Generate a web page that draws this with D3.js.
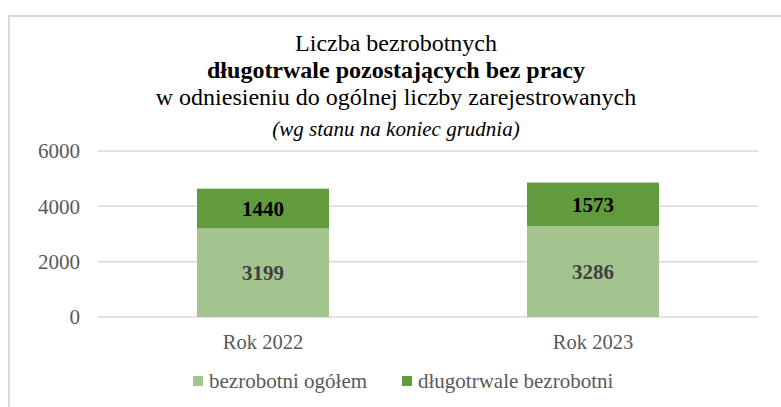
<!DOCTYPE html>
<html>
<head>
<meta charset="utf-8">
<script src="https://cdn.jsdelivr.net/npm/d3@7"></script>
<style>
  body { margin: 0; background: #fff; }
  svg text { font-family: "Liberation Serif", "Times New Roman", serif; }
</style>
</head>
<body>
<div id="chart"></div>
<script>
// data
const years = ["Rok 2022", "Rok 2023"];
const ogolem = [3199, 3286];        // bezrobotni ogółem
const dlugotrwale = [1440, 1573];   // długotrwale bezrobotni
const seriesNames = ["bezrobotni ogółem", "długotrwale bezrobotni"];
const yTicks = [0, 2000, 4000, 6000];

const width = 781, height = 407;
const margins = { top: 151, bottom: 90, left: 98, right: 23 };
const colors = ["#a3c48f", "#629a3e"];

const svg = d3.select("#chart").append("svg")
  .attr("width", width)
  .attr("height", height);

// frame
svg.append("path")
  .attr("d", `M9,${height} V16 H${width}`)
  .attr("fill", "none")
  .attr("stroke", "#d9d9d9")
  .attr("stroke-width", 2);

// titles
const title = svg.append("g").attr("text-anchor", "middle").attr("fill", "#000");
title.append("text").attr("x", 396).attr("y", 51).style("font-size", "24px").text("Liczba bezrobotnych");
title.append("text").attr("x", 396).attr("y", 78).style("font-size", "24px").style("font-weight", "bold").text("długotrwale pozostających bez pracy");
title.append("text").attr("x", 396).attr("y", 105).style("font-size", "24px").text("w odniesieniu do ogólnej liczby zarejestrowanych");
title.append("text").attr("x", 396).attr("y", 136).style("font-size", "21px").style("font-style", "italic").text("(wg stanu na koniec grudnia)");

const table = years.map((y, i) => ({ year: y, ogolem: ogolem[i], dlugotrwale: dlugotrwale[i] }));
const stack = d3.stack().keys(["ogolem", "dlugotrwale"])(table);

const xScale = d3.scaleBand()
  .domain(years)
  .range([margins.left, width - margins.right])
  .paddingInner(0)
  .paddingOuter(0);

const yScale = d3.scaleLinear()
  .domain([0, 6000])
  .range([height - margins.bottom, margins.top]);

// gridlines
svg.append("g")
  .selectAll("line")
  .data(yTicks)
  .join("line")
  .attr("x1", margins.left)
  .attr("x2", width - margins.right)
  .attr("y1", d => yScale(d))
  .attr("y2", d => yScale(d))
  .attr("stroke", "#d9d9d9")
  .attr("stroke-width", 1.5);

// y axis
const yAxis = d3.axisLeft(yScale).tickValues(yTicks).tickSize(0).tickPadding(0).tickFormat(d3.format("d"));
svg.append("g")
  .attr("class", "axis y-axis")
  .attr("transform", `translate(80,0)`)
  .call(yAxis)
  .call(g => g.select(".domain").remove())
  .call(g => g.selectAll("text")
    .attr("fill", "#595959")
    .style("font-size", "21px")
    .style("font-family", "Liberation Serif, serif"));

// x axis
const xAxis = d3.axisBottom(xScale).tickSize(0).tickPadding(0);
svg.append("g")
  .attr("class", "axis x-axis")
  .attr("transform", `translate(0,${height - margins.bottom + 17})`)
  .call(xAxis)
  .call(g => g.select(".domain").remove())
  .call(g => g.selectAll("text")
    .attr("fill", "#595959")
    .style("font-size", "20.5px")
    .style("font-family", "Liberation Serif, serif"));

// bars
const barW = xScale.bandwidth() * 0.4;
const layers = svg.append("g").attr("class", "bars-container")
  .selectAll("g.layer")
  .data(stack)
  .join("g")
  .attr("class", "layer")
  .attr("fill", (d, i) => colors[i]);

layers.selectAll("rect")
  .data(d => d)
  .join("rect")
  .attr("x", d => xScale(d.data.year) + (xScale.bandwidth() - barW) / 2)
  .attr("y", d => yScale(d[1]))
  .attr("width", barW)
  .attr("height", d => yScale(d[0]) - yScale(d[1]));

layers.selectAll("text")
  .data((d, i) => d.map(p => ({ p, i })))
  .join("text")
  .attr("x", d => xScale(d.p.data.year) + xScale.bandwidth() / 2)
  .attr("y", d => (yScale(d.p[0]) + yScale(d.p[1])) / 2)
  .attr("dy", "0.35em")
  .attr("text-anchor", "middle")
  .attr("fill", d => d.i === 0 ? "#404040" : "#000")
  .style("font-size", "21px")
  .style("font-weight", "bold")
  .text(d => d.p[1] - d.p[0]);

// legend
const legendX = [193, 402];
const legend = svg.append("g").selectAll("g")
  .data(seriesNames)
  .join("g")
  .attr("transform", (d, i) => `translate(${legendX[i]},376)`);
legend.append("rect")
  .attr("width", 10).attr("height", 10)
  .attr("fill", (d, i) => colors[i]);
legend.append("text")
  .attr("x", 16).attr("y", 5).attr("dy", "0.35em")
  .attr("fill", "#595959")
  .style("font-size", "21px")
  .text(d => d);
</script>
</body>
</html>
